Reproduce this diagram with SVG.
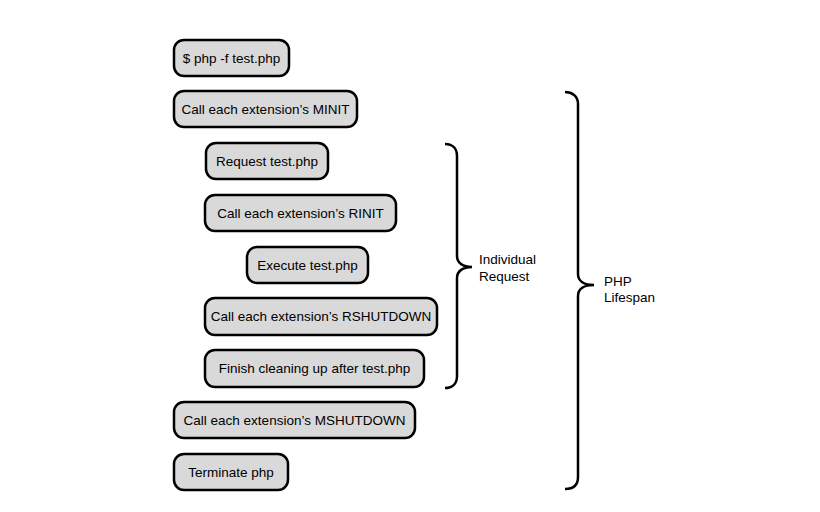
<svg xmlns="http://www.w3.org/2000/svg" width="820" height="512" viewBox="0 0 820 512">
<style>
.box{fill:#d9d9d9;stroke:#000;stroke-width:2.5}
.t{font-family:"Liberation Sans",Arial,sans-serif;font-size:13.5px;fill:#000;text-anchor:middle}
.l{font-family:"Liberation Sans",Arial,sans-serif;font-size:13.5px;fill:#000}
.br{fill:none;stroke:#000;stroke-width:2.5}
</style>
<rect width="820" height="512" fill="#fff"/>
<g id="n1"><rect class="box" x="174" y="40" width="115" height="36" rx="10"/><text class="t" x="231.5" y="62.5">$ php -f test.php</text></g>
<g id="n2"><rect class="box" x="174" y="91" width="183" height="36" rx="10"/><text class="t" x="265.5" y="113.5">Call each extension’s MINIT</text></g>
<g id="n3"><rect class="box" x="206" y="143" width="122" height="36" rx="10"/><text class="t" x="267" y="165.5">Request test.php</text></g>
<g id="n4"><rect class="box" x="205" y="195" width="191" height="36" rx="10"/><text class="t" x="300.5" y="217.5">Call each extension’s RINIT</text></g>
<g id="n5"><rect class="box" x="247" y="247" width="121" height="36" rx="10"/><text class="t" x="307.5" y="269.5">Execute test.php</text></g>
<g id="n6"><rect class="box" x="205" y="298" width="232" height="37" rx="10"/><text class="t" x="321" y="321">Call each extension’s RSHUTDOWN</text></g>
<g id="n7"><rect class="box" x="205" y="350" width="219" height="37" rx="10"/><text class="t" x="314.5" y="373">Finish cleaning up after test.php</text></g>
<g id="n8"><rect class="box" x="174" y="402" width="241" height="36" rx="10"/><text class="t" x="294.5" y="424.5">Call each extension’s MSHUTDOWN</text></g>
<g id="n9"><rect class="box" x="174" y="454" width="114" height="36" rx="10"/><text class="t" x="231" y="476.5">Terminate php</text></g>
<g id="connectors">
<path class="br" d="M445,144 C452,144 457,148 457,156 L457,256 C457,263 463,267 472,267 C463,267 457,271 457,278 L457,376 C457,384 452,388 445,388"/>
<path class="br" d="M565,92 C572,92 578,96 578,104 L578,274 C578,281 584,285 594,285 C584,285 578,289 578,296 L578,477 C578,485 573,489 565,489"/>
</g>
<g id="labels">
<text class="l" x="479" y="264">Individual</text>
<text class="l" x="479" y="281">Request</text>
<text class="l" x="604" y="286">PHP</text>
<text class="l" x="604" y="302">Lifespan</text>
</g>
</svg>
